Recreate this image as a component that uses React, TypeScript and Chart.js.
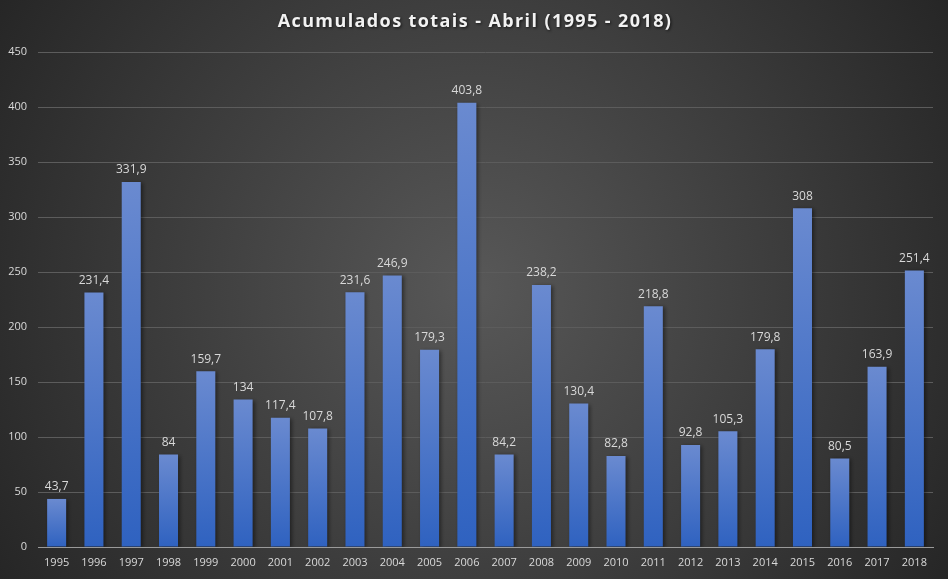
import React, { useEffect, useRef } from "react";
import { Chart, registerables } from "chart.js";

Chart.register(...registerables);

const TITLE = "Acumulados totais - Abril (1995 - 2018)";
const years = ["1995","1996","1997","1998","1999","2000","2001","2002","2003","2004","2005","2006","2007","2008","2009","2010","2011","2012","2013","2014","2015","2016","2017","2018"];
const totals = [43.7, 231.4, 331.9, 84, 159.7, 134, 117.4, 107.8, 231.6, 246.9, 179.3, 403.8, 84.2, 238.2, 130.4, 82.8, 218.8, 92.8, 105.3, 179.8, 308, 80.5, 163.9, 251.4];
const yMax = 450;
const yStep = 50;

const FONT = "'Open Sans', 'DejaVu Sans', sans-serif";
const TEXT = "#d9d9d9";

const bgPlugin = {
  id: "bgPlugin",
  beforeDraw(chart: any) {
    const { ctx, width, height } = chart;
    ctx.save();
    const g = ctx.createRadialGradient(width / 2, height / 2, 0, width / 2, height / 2, Math.hypot(width, height) / 2);
    g.addColorStop(0, "#585858");
    g.addColorStop(1, "#262626");
    ctx.fillStyle = g;
    ctx.fillRect(0, 0, width, height);
    // title
    ctx.font = `bold 18px ${FONT}`;
    (ctx as any).letterSpacing = "1.4px";
    ctx.textAlign = "center";
    ctx.textBaseline = "middle";
    ctx.shadowColor = "rgba(0,0,0,0.7)";
    ctx.shadowBlur = 3;
    ctx.shadowOffsetX = 1;
    ctx.shadowOffsetY = 1;
    ctx.fillStyle = "#f2f2f2";
    ctx.fillText(TITLE, width / 2 + 1, 22);
    ctx.restore();
  },
  beforeDatasetsDraw(chart: any) {
    const ctx = chart.ctx;
    ctx.save();
    ctx.shadowColor = "rgba(0,0,0,0.45)";
    ctx.shadowBlur = 4;
    ctx.shadowOffsetX = 2;
    ctx.shadowOffsetY = 1;
  },
  afterDatasetsDraw(chart: any) {
    const ctx = chart.ctx;
    ctx.restore();
    ctx.save();
    ctx.font = `12px ${FONT}`;
    ctx.fillStyle = TEXT;
    ctx.textAlign = "center";
    ctx.textBaseline = "bottom";
    const meta = chart.getDatasetMeta(0);
    meta.data.forEach((bar: any, i: number) => {
      const v = chart.data.datasets[0].data[i];
      ctx.fillText(String(v).replace(".", ","), bar.x, bar.y - 6);
    });
    ctx.restore();
  },
};

export default function App() {
  const ref = useRef<HTMLCanvasElement>(null);
  useEffect(() => {
    document.body.style.margin = "0";
    const chart = new Chart(ref.current!, {
      type: "bar",
      data: {
        labels: years,
        datasets: [
          {
            data: totals,
            backgroundColor: (c: any) => {
              const ch = c.chart;
              const ys = ch.scales?.y;
              if (!ys || c.type !== "data") return "#4472c4";
              const top = ys.getPixelForValue(c.raw);
              const base = ys.getPixelForValue(0);
              if (!isFinite(top) || !isFinite(base) || top === base) return "#4472c4";
              const g = ch.ctx.createLinearGradient(0, top, 0, base);
              g.addColorStop(0, "#6a8ad0");
              g.addColorStop(1, "#2f62c0");
              return g;
            },
            borderWidth: 0,
            barPercentage: 0.51,
            categoryPercentage: 1,
          },
        ],
      },
      plugins: [bgPlugin],
      options: {
        animation: false,
        responsive: false,
        devicePixelRatio: 1,
        layout: { padding: { top: 52, right: 15, left: 0, bottom: 0 } },
        plugins: { legend: { display: false }, tooltip: { enabled: false }, title: { display: false } },
        scales: {
          x: {
            grid: { display: false, drawTicks: false },
            border: { display: true, color: "#9a9a9a", width: 1 },
            ticks: { color: TEXT, font: { family: FONT, size: 11 }, padding: 9, maxRotation: 0, autoSkip: false },
            afterFit: (s: any) => { s.height = 32; },
          },
          y: {
            min: 0,
            max: yMax,
            ticks: { stepSize: yStep, color: TEXT, font: { family: FONT, size: 11 }, padding: 11 },
            grid: { color: "#5c5c5c", lineWidth: 1, drawTicks: false },
            border: { display: false },
            afterFit: (s: any) => { s.width = 38; },
          },
        },
      },
    });
    return () => chart.destroy();
  }, []);
  return (
    <div style={{ width: 948, height: 579 }}>
      <canvas ref={ref} width={948} height={579} style={{ display: "block" }} />
    </div>
  );
}
